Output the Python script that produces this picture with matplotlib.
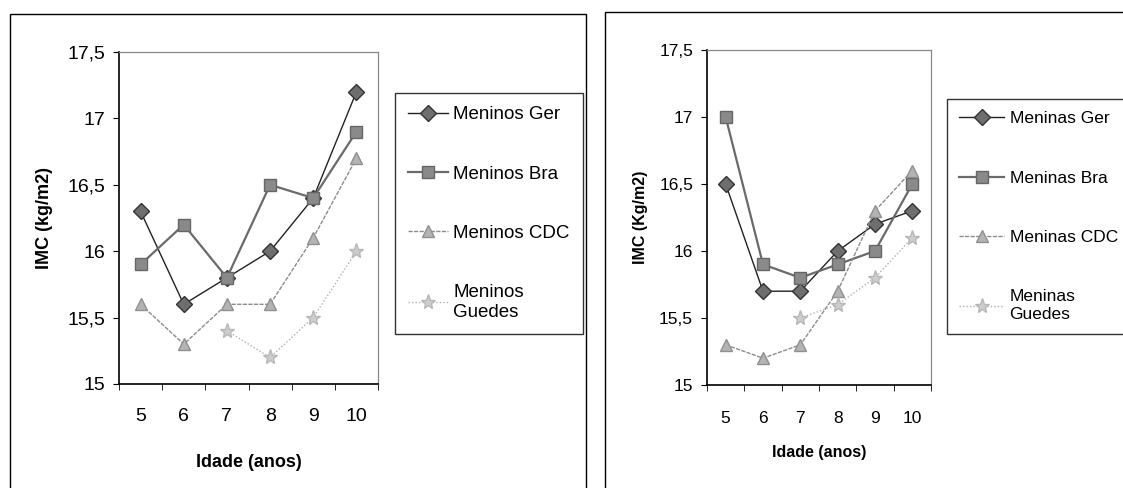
import numpy as np
import matplotlib
matplotlib.use("Agg")
import matplotlib.pyplot as plt
from matplotlib.patches import Rectangle

plt.rcParams['font.family'] = ['Liberation Sans', 'DejaVu Sans']

# idades (categorias do eixo x)
idades = ['5', '6', '7', '8', '9', '10']
yticks = [15, 15.5, 16, 16.5, 17, 17.5]
ylabels = ['15', '15,5', '16', '16,5', '17', '17,5']

# meninos
meninos_ger = [16.3, 15.6, 15.8, 16.0, 16.4, 17.2]
meninos_bra = [15.9, 16.2, 15.8, 16.5, 16.4, 16.9]
meninos_cdc = [15.6, 15.3, 15.6, 15.6, 16.1, 16.7]
meninos_guedes = [np.nan, np.nan, 15.4, 15.2, 15.5, 16.0]

# meninas
meninas_ger = [16.5, 15.7, 15.7, 16.0, 16.2, 16.3]
meninas_bra = [17.0, 15.9, 15.8, 15.9, 16.0, 16.5]
meninas_cdc = [15.3, 15.2, 15.3, 15.7, 16.3, 16.6]
meninas_guedes = [np.nan, np.nan, 15.5, 15.6, 15.8, 16.1]

W, H = 1123, 488
fig = plt.figure(figsize=(W / 100, H / 100), dpi=100)

# estilos de cada serie: Ger, Bra, CDC, Guedes
styles = [
    dict(color='#222222', lw=1.0, ls='-', marker='D', ms=8, mfc='#6e6e6e', mec='#333333'),
    dict(color='#6a6a6a', lw=1.6, ls='-', marker='s', ms=8.5, mfc='#8a8a8a', mec='#666666'),
    dict(color='#8c8c8c', lw=1.0, ls=(0, (3, 1)), marker='^', ms=8.5, mfc='#b4b4b4', mec='#909090'),
    dict(color='#b0b0b0', lw=1.0, ls=(0, (1, 1.5)), marker='*', ms=11, mfc='#cdcdcd', mec='#b8b8b8'),
]


def painel(rect, series, nomes, ylab, fs_tick, fs_leg, fs_lab, leg_xy, labspace,
           handlen, ylab_x, xlab_y, xpad):
    ax = fig.add_axes(rect)
    x = np.arange(len(idades))
    for vals, nome, st in zip(series, nomes, styles):
        ax.plot(x, vals, label=nome, **st)
    ax.set_xlim(-0.5, len(idades) - 0.5)
    ax.set_ylim(15, 17.5)
    ax.set_yticks(yticks)
    ax.set_yticklabels(ylabels, fontsize=fs_tick)
    ax.set_xticks(x)
    ax.set_xticklabels(idades, fontsize=fs_tick)
    ax.tick_params(axis='x', which='major', length=0, pad=xpad)
    ax.set_xticks(np.arange(-0.5, len(idades)), minor=True)
    ax.tick_params(axis='x', which='minor', length=4, direction='out')
    ax.tick_params(axis='y', length=4, direction='out', pad=6)
    for s in ['left', 'bottom']:
        ax.spines[s].set_color('black')
        ax.spines[s].set_linewidth(1.2)
    for s in ['top', 'right']:
        ax.spines[s].set_color('#888888')
        ax.spines[s].set_linewidth(0.9)
    ax.set_ylabel(ylab, fontsize=fs_lab, fontweight='bold')
    ax.yaxis.set_label_coords(ylab_x, 0.5)
    ax.set_xlabel('Idade (anos)', fontsize=fs_lab, fontweight='bold')
    ax.xaxis.set_label_coords(0.5, xlab_y)
    leg = ax.legend(loc='upper left', bbox_to_anchor=leg_xy,
                    bbox_transform=fig.transFigure, borderaxespad=0,
                    fontsize=fs_leg, frameon=True, fancybox=False,
                    edgecolor='black', labelspacing=labspace,
                    handlelength=handlen, handletextpad=0.3, borderpad=0.7)
    leg.get_frame().set_linewidth(1.0)
    return ax


painel([119 / W, 1 - 384 / H, 259 / W, 332 / H],
       [meninos_ger, meninos_bra, meninos_cdc, meninos_guedes],
       ['Meninos Ger', 'Meninos Bra', 'Meninos CDC', 'Meninos\nGuedes'],
       'IMC (kg/m2)', 14, 13.5, 13, (395 / W, 1 - 93 / H), 2.25, 2.1,
       -0.255, -0.21, 17)

painel([707 / W, 1 - 385 / H, 224 / W, 335 / H],
       [meninas_ger, meninas_bra, meninas_cdc, meninas_guedes],
       ['Meninas Ger', 'Meninas Bra', 'Meninas CDC', 'Meninas\nGuedes'],
       'IMC (Kg/m2)', 12.5, 12.5, 11.5, (947 / W, 1 - 99 / H), 2.55, 2.6,
       -0.263, -0.18, 18.5)

# molduras dos dois graficos
fig.add_artist(Rectangle((10 / W, -0.05), 576 / W, 1.05 - 14 / H,
                         transform=fig.transFigure, fill=False,
                         edgecolor='black', lw=1.0))
fig.add_artist(Rectangle((605 / W, -0.05), 0.5, 1.05 - 12 / H,
                         transform=fig.transFigure, fill=False,
                         edgecolor='black', lw=1.0))

fig.savefig('out.png', dpi=100, facecolor='white')
